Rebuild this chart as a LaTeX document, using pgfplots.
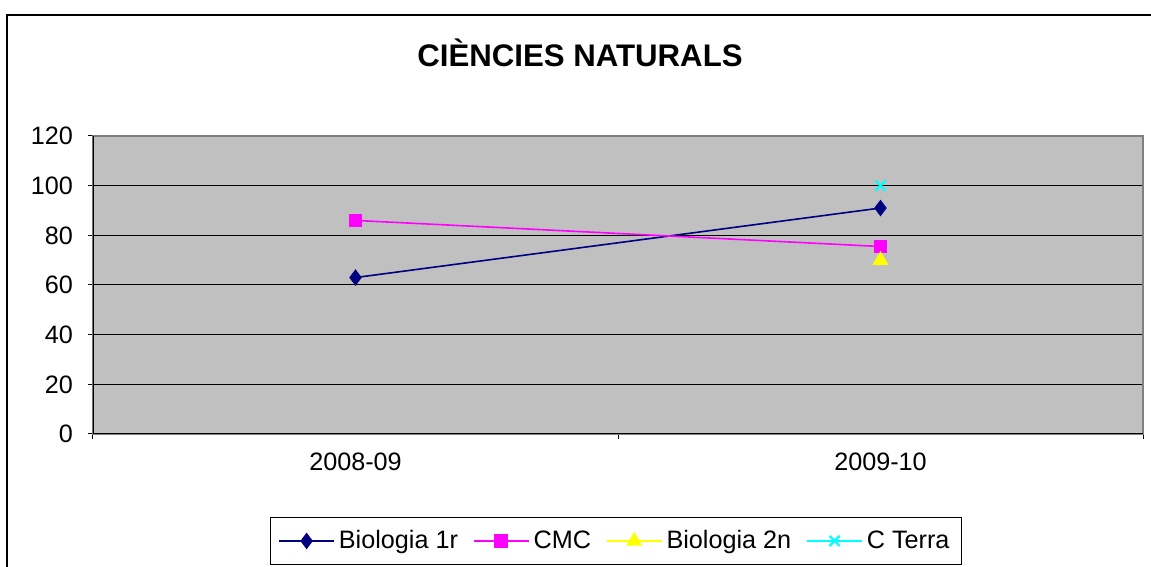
\documentclass[border=0pt]{standalone}
\usepackage{pgfplots}
\pgfplotsset{compat=1.18}
\usepackage{fontspec}
\setmainfont{Liberation Sans}
\definecolor{plotgray}{RGB}{192,192,192}
\definecolor{framegray}{RGB}{128,128,128}
\definecolor{navyc}{RGB}{0,0,128}
\definecolor{magc}{RGB}{255,0,255}
\definecolor{yelc}{RGB}{255,255,0}
\definecolor{cyac}{RGB}{0,255,255}
\begin{document}
\begin{tikzpicture}
\useasboundingbox (0,0) rectangle (575.5pt,283.5pt);
\draw[black, line width=0.6pt] (575.5pt,276pt) -- (3.5pt,276pt) -- (3.5pt,0pt);
\node[font=\fontsize{15.6}{18}\selectfont\bfseries] at (290pt,257pt) {CIÈNCIES NATURALS};
\begin{axis}[
  at={(46.5pt,66.5pt)}, anchor=south west,
  scale only axis, width=525pt, height=149pt,
  xmin=-0.5, xmax=1.5, ymin=0, ymax=120,
  ytick={0,20,...,120},
  xtick={-0.5,0.5,1.5}, xticklabels={},
  extra x ticks={0,1}, extra x tick labels={2008-09,2009-10},
  extra x tick style={major tick length=0pt, xticklabel style={yshift=-6pt}},
  xtick pos=bottom, ytick pos=left,
  tick align=outside, major tick length=2.5pt,
  tick style={black, line width=0.5pt},
  ymajorgrids, grid style={black, line width=0.5pt},
  axis background/.style={fill=plotgray},
  axis line style={framegray, line width=0.8pt},
  tick label style={font=\fontsize{12.6}{15}\selectfont},
  yticklabel style={xshift=-4pt},
  /pgf/number format/assume math mode=true,
  legend columns=4,
  legend style={at={(0.498,-0.359)}, anchor=center, draw=black, line width=0.5pt, fill=white,
    font=\fontsize{12.6}{15}\selectfont, inner xsep=4pt, inner ysep=4.5pt,
    /tikz/every even column/.append style={column sep=5.5pt}},
  legend cell align=left,
  legend image code/.code={\draw[mark repeat=2,mark phase=2] plot coordinates {(0pt,0pt) (13.75pt,0pt) (27.5pt,0pt)};},
]
\addplot[color=navyc, line width=0.8pt, mark=diamond*, mark size=3.5pt, mark options={fill=navyc}] coordinates {(0,63) (1,91)};
\addlegendentry{Biologia 1r}
\addplot[color=magc, line width=0.8pt, mark=square*, mark size=3pt, mark options={fill=magc}] coordinates {(0,86) (1,75.5)};
\addlegendentry{CMC}
\addplot[color=yelc, line width=0.8pt, mark=triangle*, mark size=3.8pt, mark options={fill=yelc}] coordinates {(1,70)};
\addlegendentry{Biologia 2n}
\addplot[color=cyac, line width=0.8pt, mark=x, mark size=3.6pt, mark options={line width=1.1pt}] coordinates {(1,100)};
\addlegendentry{C Terra}
\draw[black, line width=0.8pt] (rel axis cs:0,1) -- (rel axis cs:0,0) -- (rel axis cs:1,0);
\end{axis}
\end{tikzpicture}
\end{document}
